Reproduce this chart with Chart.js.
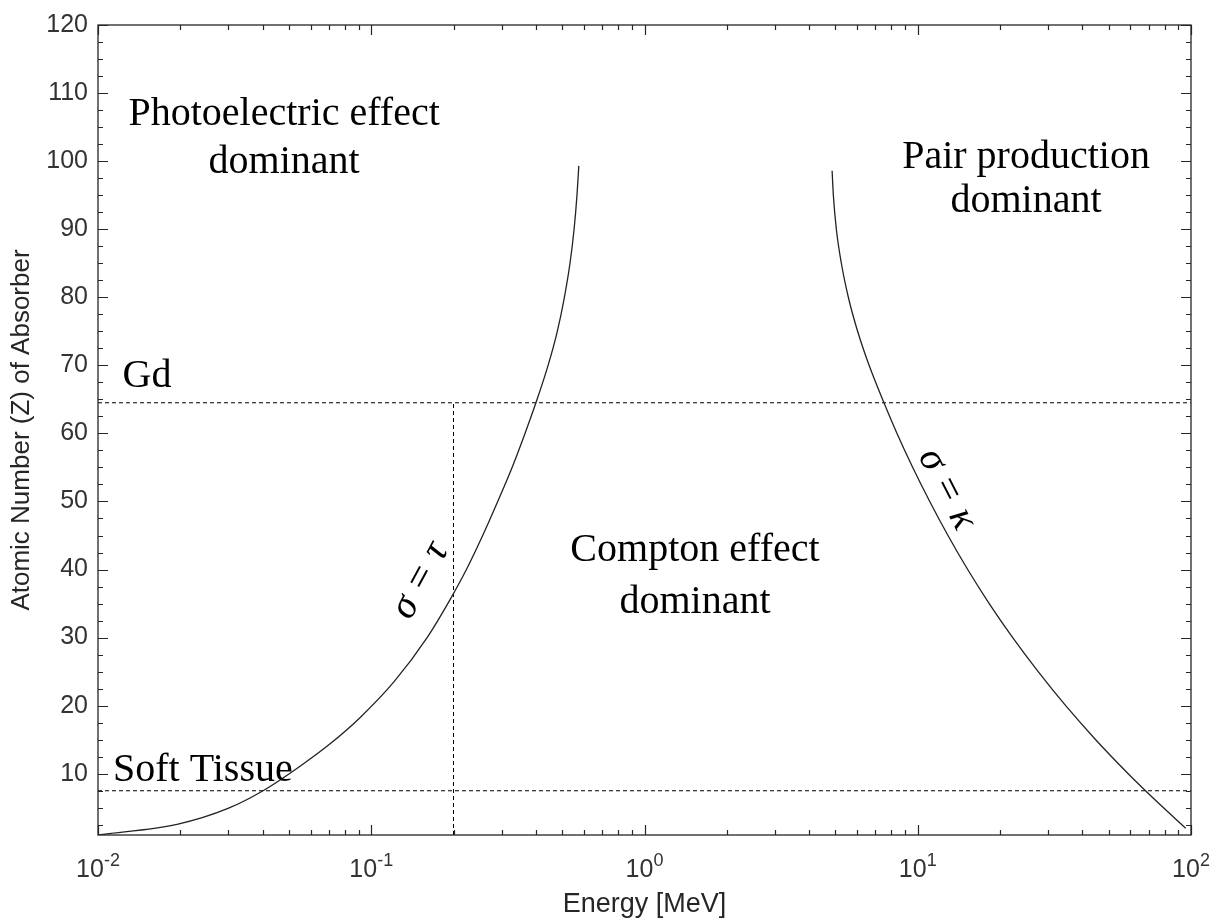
<!DOCTYPE html>
<html>
<head>
<meta charset="utf-8">
<script src="https://cdn.jsdelivr.net/npm/chart.js@4"></script>
<style>
  html, body { margin: 0; background: #fff; }
  canvas { display: block; }
</style>
</head>
<body>
<canvas id="chart" width="1223" height="922"></canvas>
<script>
// photoelectric / compton boundary (sigma = tau)
const TAU_E = [0.01, 0.019631, 0.029909, 0.040166, 0.054394, 0.0707, 0.090732, 0.12165, 0.16009, 0.19501, 0.22297,
  0.25574, 0.29027, 0.3277, 0.36532, 0.40053, 0.44378, 0.47963, 0.50914, 0.53373, 0.55248, 0.56613, 0.57479];
const TAU_Z = [1, 2.6, 4.9, 7.5, 11, 14.4, 18.2, 23.6, 30, 35.7, 40, 45, 50, 55, 60, 64.5, 70, 75, 80, 85, 90, 95, 99.3];
// compton / pair production boundary (sigma = kappa)
const KAPPA_E = [4.859, 4.911, 5.036, 5.253, 5.572, 6.024, 6.637, 7.521, 8.396, 9.587, 11.064, 12.903, 15.234, 18.26,
  22.259, 27.594, 34.787, 44.796, 58.909, 68.154, 79.317, 95.631];
const KAPPA_Z = [98.6, 95, 90, 85, 80, 75, 70, 64.5, 60, 55, 50, 45, 40, 35, 30, 25, 20, 15, 10, 7.5, 5, 2];
// reference materials
const GD_Z = 64.5;
const SOFT_Z = 7.5;
const CUT_E = 0.2;
// axes
const X_MIN = 0.01, X_MAX = 100;
const Y_MIN = 1, Y_MAX = 120;
const X_MAJOR = [0.01, 0.1, 1, 10, 100];
const X_MINOR = [2, 3, 4, 5, 6, 7, 8, 9];
const Y_MAJOR = [10, 20, 30, 40, 50, 60, 70, 80, 90, 100, 110, 120];
const Y_MINOR_STEP = 2.5;

const AX = "#262626";
const SANS = "'Liberation Sans', Arial, sans-serif";
const SERIF = "'Liberation Serif', 'Times New Roman', serif";

// text placed in data units: [E, Z, text, align, rotation(deg), style]
const NOTES = [
  [0.048, 106.9, "Photoelectric effect", "center", 0, ""],
  [0.048, 99.8, "dominant", "center", 0, ""],
  [24.9, 100.5, "Pair production", "center", 0, ""],
  [24.9, 94.1, "dominant", "center", 0, ""],
  [1.53, 42.8, "Compton effect", "center", 0, ""],
  [1.53, 35.2, "dominant", "center", 0, ""],
  [0.0123, 68.4, "Gd", "left", 0, ""],
  [0.01135, 10.5, "Soft Tissue", "left", 0, ""],
  [0.151, 38.4, "\u03c3 = \u03c4", "center", -61.6, "italic "],
  [12.8, 51.8, "\u03c3 = \u03ba", "center", 62.8, "italic "],
];

const pts = (xs, ys) => xs.map((x, i) => ({ x, y: ys[i] }));

const frame = {
  id: "frame",
  afterDatasetsDraw(chart) {
    const { ctx, chartArea: a, scales: { x, y } } = chart;
    ctx.save();
    ctx.strokeStyle = AX;
    ctx.lineWidth = 1.3;
    ctx.strokeRect(a.left, a.top, a.right - a.left, a.bottom - a.top);
    ctx.lineWidth = 1.2;
    ctx.beginPath();
    const tickY = (v, len) => {
      const p = Math.round(y.getPixelForValue(v)) + 0.5;
      ctx.moveTo(a.left, p); ctx.lineTo(a.left + len, p);
      ctx.moveTo(a.right, p); ctx.lineTo(a.right - len, p);
    };
    const tickX = (v, len) => {
      const p = Math.round(x.getPixelForValue(v)) + 0.5;
      ctx.moveTo(p, a.bottom); ctx.lineTo(p, a.bottom - len);
      ctx.moveTo(p, a.top); ctx.lineTo(p, a.top + len);
    };
    Y_MAJOR.forEach((v) => tickY(v, 10));
    for (let v = Y_MINOR_STEP; v < Y_MAX; v += Y_MINOR_STEP) if (v % 10) tickY(v, 5);
    X_MAJOR.forEach((v) => tickX(v, 10));
    X_MAJOR.slice(0, -1).forEach((d) => X_MINOR.forEach((m) => tickX(d * m, 5)));
    ctx.stroke();

    // x tick labels as 10 with a superscript exponent
    ctx.fillStyle = "#333";
    ctx.textBaseline = "alphabetic";
    ctx.textAlign = "left";
    x.ticks.forEach((t) => {
      const exp = String(Math.round(Math.log10(t.value)));
      ctx.font = "25px " + SANS;
      const wb = ctx.measureText("10").width;
      ctx.font = "18px " + SANS;
      const we = ctx.measureText(exp).width;
      const px = x.getPixelForValue(t.value) - (wb + we) / 2;
      ctx.font = "25px " + SANS;
      ctx.fillText("10", px, a.bottom + 42);
      ctx.font = "18px " + SANS;
      ctx.fillText(exp, px + wb, a.bottom + 31);
    });

    // region / material notes
    ctx.fillStyle = "#000";
    ctx.textBaseline = "middle";
    NOTES.forEach(([e, z, txt, align, rot, style]) => {
      ctx.save();
      ctx.translate(x.getPixelForValue(e), y.getPixelForValue(z));
      ctx.rotate(rot * Math.PI / 180);
      ctx.font = style + "40px " + SERIF;
      ctx.textAlign = align;
      ctx.fillText(txt, 0, 0);
      ctx.restore();
    });
    ctx.restore();
  },
};

const line = { showLine: true, pointRadius: 0, borderColor: "#222", borderWidth: 1.3, cubicInterpolationMode: "monotone" };
const dash = { showLine: true, pointRadius: 0, borderColor: "#000", borderWidth: 1, borderDash: [4, 3] };

new Chart(document.getElementById("chart"), {
  type: "scatter",
  data: {
    datasets: [
      { ...line, data: pts(TAU_E, TAU_Z) },
      { ...line, data: pts(KAPPA_E, KAPPA_Z) },
      { ...dash, data: [{ x: X_MIN, y: GD_Z }, { x: X_MAX, y: GD_Z }] },
      { ...dash, data: [{ x: X_MIN, y: SOFT_Z }, { x: X_MAX, y: SOFT_Z }] },
      { ...dash, data: [{ x: CUT_E, y: Y_MIN }, { x: CUT_E, y: GD_Z }] },
    ],
  },
  options: {
    responsive: false,
    animation: false,
    devicePixelRatio: 1,
    layout: { padding: { top: 18, right: 32, left: 0, bottom: 0 } },
    plugins: { legend: { display: false }, tooltip: { enabled: false } },
    scales: {
      x: {
        type: "logarithmic", min: X_MIN, max: X_MAX,
        grid: { display: false, drawTicks: false }, border: { display: false },
        ticks: { display: false },
        afterBuildTicks: (s) => { s.ticks = X_MAJOR.map((v) => ({ value: v })); },
        afterFit: (s) => { s.height = 87; },
        title: { display: true, text: "Energy [MeV]", color: AX, font: { family: SANS, size: 27 }, padding: { top: 0, bottom: 1 } },
      },
      y: {
        min: Y_MIN, max: Y_MAX,
        grid: { display: false, drawTicks: false }, border: { display: false },
        ticks: { color: "#333", font: { family: SANS, size: 25 }, padding: 10 },
        afterBuildTicks: (s) => { s.ticks = Y_MAJOR.map((v) => ({ value: v })); },
        afterFit: (s) => { s.width = 98; },
        title: { display: true, text: "Atomic Number (Z) of Absorber", color: AX, font: { family: SANS, size: 26 }, padding: { top: 6, bottom: 0 } },
      },
    },
  },
  plugins: [frame],
});
</script>
</body>
</html>
